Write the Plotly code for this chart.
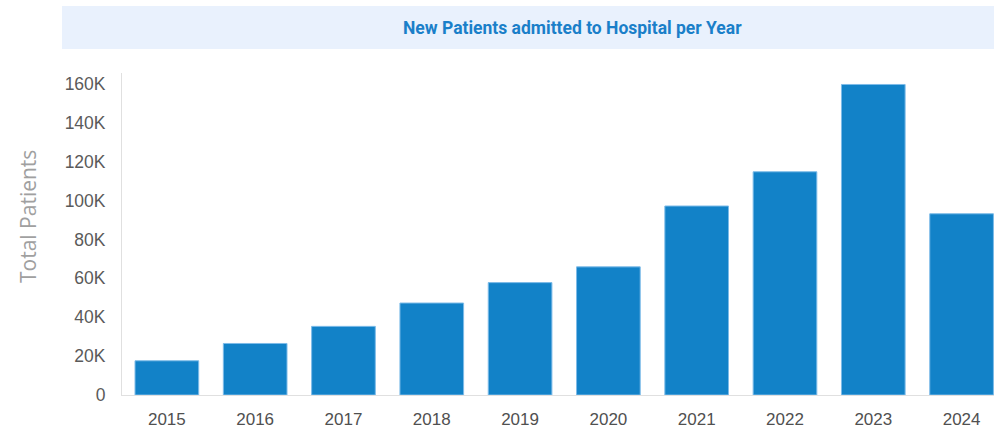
import plotly.graph_objects as go

years = ["2015", "2016", "2017", "2018", "2019", "2020", "2021", "2022", "2023", "2024"]
patients = [17600, 26500, 35300, 47300, 57800, 65900, 97200, 114800, 159700, 93200]
y_tickvals = [0, 20000, 40000, 60000, 80000, 100000, 120000, 140000, 160000]
y_ticktext = ["0", "20K", "40K", "60K", "80K", "100K", "120K", "140K", "160K"]

title_text = "New Patients admitted to Hospital per Year"
y_title = "Total Patients"

fig = go.Figure()
fig.add_trace(go.Bar(
    x=years, y=patients,
    marker=dict(color="#1282c8", line=dict(color="#7dbbe8", width=1)),
))

W, H = 994, 429
ml, mr, mt, mb = 122, 0, 73, 34
pw = W - ml - mr
ph = H - mt - mb

def px_to_paper_x(px):
    return (px - ml) / pw

def px_to_paper_y(py):
    return (H - mb - py) / ph

fig.update_layout(
    width=W, height=H,
    margin=dict(l=ml, r=mr, t=mt, b=mb, pad=0),
    plot_bgcolor="white", paper_bgcolor="white",
    showlegend=False,
    bargap=0.279,
    font=dict(family="Liberation Sans, Arial, sans-serif", color="#555555", size=17),
    xaxis=dict(
        range=[-0.508, 9.367],
        showgrid=False, zeroline=False,
        showline=True, linecolor="#e0e0e0", linewidth=1,
        ticks="outside", ticklen=9, tickcolor="rgba(0,0,0,0)",
        tickfont=dict(size=17, color="#505050"),
    ),
    yaxis=dict(
        range=[0, 165600],
        tickvals=y_tickvals, ticktext=y_ticktext,
        showgrid=False, zeroline=False,
        showline=True, linecolor="#e0e0e0", linewidth=1,
        ticks="outside", ticklen=12, tickcolor="rgba(0,0,0,0)",
        tickfont=dict(size=17.5, color="#5a5a5a"),
    ),
)

# title banner
fig.add_shape(
    type="rect", xref="paper", yref="paper",
    x0=px_to_paper_x(62), x1=px_to_paper_x(1100),
    y0=px_to_paper_y(49), y1=px_to_paper_y(6),
    fillcolor="#e9f1fd", line=dict(width=0), layer="below",
)
fig.add_annotation(
    text="<b>" + title_text + "</b>",
    xref="paper", yref="paper",
    x=px_to_paper_x(572), y=px_to_paper_y(27.5),
    xanchor="center", yanchor="middle", showarrow=False,
    font=dict(family="Roboto, sans-serif", size=17.5, color="#1a7fc9"),
)
fig.add_annotation(
    text=y_title,
    xref="paper", yref="paper",
    x=px_to_paper_x(28), y=px_to_paper_y(217),
    xanchor="center", yanchor="middle", showarrow=False, textangle=-90,
    font=dict(family="Open Sans, sans-serif", size=21, color="#a0a0a0"),
)

fig.write_html(
    "out.html",
    config={"displayModeBar": False},
    post_script="document.body.style.margin='0';document.body.style.overflow='hidden';",
)
